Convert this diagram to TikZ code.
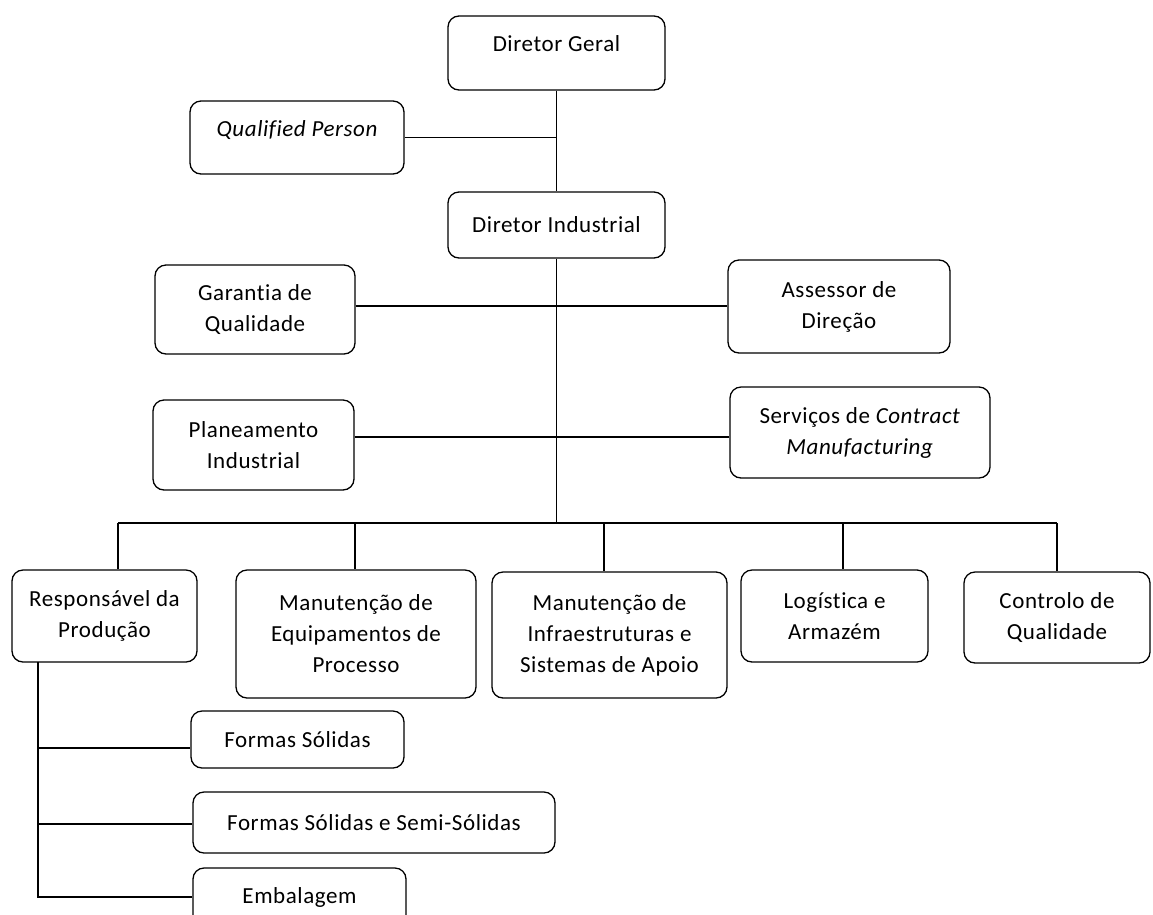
\documentclass[tikz,border=0pt]{standalone}
\usepackage{fontspec}
\setmainfont{Carlito}[Ligatures=NoCommon, LetterSpace=2.5]
\usepackage{tikz}
\usetikzlibrary{positioning}

\begin{document}
\begin{tikzpicture}[
        x=1pt, y=-1pt,
        font=\fontsize{23}{31}\selectfont,
        unit/.style={draw, rounded corners=11pt, line width=1.3pt, align=center, inner sep=0pt},
        raised/.style={text depth=18pt},
        link/.style={line width=1.5pt}
    ]
        \useasboundingbox (0,0) rectangle (1153,914);

        \node[unit, raised, minimum width=217, minimum height=74] (dg) at (556.5,53) {Diretor Geral};
        \node[unit, raised, minimum width=214, minimum height=73] (qp) at (297,137.5) {\itshape Qualified Person};
        \node[unit, minimum width=217, minimum height=66] (di) at (556.5,225) {Diretor Industrial};
        \node[unit, minimum width=200, minimum height=89] (gq) at (255,309.5) {Garantia de\\Qualidade};
        \node[unit, minimum width=222, minimum height=93] (ad) at (839,306.5) {Assessor de\\Direção};
        \node[unit, minimum width=201, minimum height=90] (pi) at (253.5,445) {Planeamento\\Industrial};
        \node[unit, minimum width=260, minimum height=91] (sc) at (860,432.5) {Serviços de \textit{Contract}\\\textit{Manufacturing}};

        \node[unit, minimum width=185, minimum height=92] (rp) at (104.5,616) {Responsável da\\Produção};
        \node[unit, minimum width=240, minimum height=128] (me) at (356,634) {Manutenção de\\Equipamentos de\\Processo};
        \node[unit, minimum width=235, minimum height=126] (mi) at (609.5,635) {Manutenção de\\Infraestruturas e\\Sistemas de Apoio};
        \node[unit, minimum width=187, minimum height=92] (la) at (834.5,616) {Logística e\\Armazém};
        \node[unit, minimum width=186, minimum height=91] (cq) at (1057,617.5) {Controlo de\\Qualidade};

        \node[unit, minimum width=213, minimum height=57] (fs) at (297.5,739.5) {Formas Sólidas};
        \node[unit, minimum width=362, minimum height=61] (ss) at (374,822.5) {Formas Sólidas e Semi-Sólidas};
        \node[unit, minimum width=213, minimum height=58] (em) at (299.5,897) {Embalagem};

        \coordinate (bus) at (556.5,523);
        \coordinate (row1) at (556.5,306);
        \coordinate (row2) at (556.5,437);
        \coordinate (b1) at (118,523);
        \coordinate (b2) at (355,523);
        \coordinate (b3) at (604,523);
        \coordinate (b4) at (843,523);
        \coordinate (b5) at (1057,523);
        \coordinate (stem) at (38,662);

        \draw[link] (dg.south) -- (di.north);
        \draw[link] (qp.east) -- (qp.east -| dg.south);
        \draw[link] (di.south) -- (bus);
        \draw[link] (row1 -| gq.east) -- (row1 -| ad.west);
        \draw[link] (row2 -| pi.east) -- (row2 -| sc.west);
        \draw[link] (b1) -- (b5);
        \draw[link] (b1) -- (b1 |- rp.north);
        \draw[link] (b2) -- (b2 |- me.north);
        \draw[link] (b3) -- (b3 |- mi.north);
        \draw[link] (b4) -- (b4 |- la.north);
        \draw[link] (b5) -- (b5 |- cq.north);
        \draw[link] (stem) |- (em.west);
        \draw[link] (stem |- fs.west) ++(0,8.5) -- ([yshift=-8.5pt]fs.west);
        \draw[link] (stem |- ss.west) ++(0,1.5) -- ([yshift=-1.5pt]ss.west);
    \end{tikzpicture}
\end{document}
